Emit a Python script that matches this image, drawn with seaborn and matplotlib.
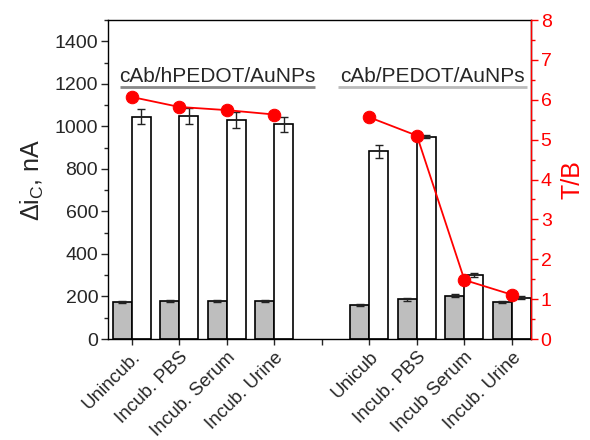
import numpy as np
import pandas as pd
import matplotlib
matplotlib.use("Agg")
import matplotlib.pyplot as plt
from matplotlib.ticker import MultipleLocator
import seaborn as sns

# ---- data ----
positions = [0, 1, 2, 3, 5, 6, 7, 8]
tick_labels = ["Unincub.", "Incub. PBS", "Incub. Serum", "Incub. Urine", "",
               "Unicub", "Incub. PBS", "Incub Serum", "Incub. Urine"]
blank_vals = [173, 180, 179, 180, 160, 187, 204, 176]
blank_err = [5, 5, 5, 5, 4, 6, 6, 5]
target_vals = [1046, 1048, 1028, 1009, 883, 951, 300, 195]
target_err = [36, 38, 38, 34, 30, 6, 10, 5]
tb_left = [6.07, 5.82, 5.74, 5.63]
tb_right = [5.56, 5.10, 1.48, 1.11]
group_names = ["cAb/hPEDOT/AuNPs", "cAb/PEDOT/AuNPs"]

sns.set_style("white")
plt.rcParams['font.family'] = ['Liberation Sans', 'DejaVu Sans']
plt.rcParams['mathtext.fontset'] = 'custom'
plt.rcParams['mathtext.rm'] = 'Liberation Sans'
plt.rcParams['mathtext.it'] = 'Liberation Sans:italic'

df = pd.DataFrame({
    "pos": positions * 2,
    "val": blank_vals + target_vals,
    "err": blank_err + target_err,
    "kind": ["B"] * len(positions) + ["T"] * len(positions),
})

fig = plt.figure(figsize=(5.9, 4.4), dpi=100)
ax = fig.add_axes([0.183, 0.2295, 0.717, 0.725])

sns.barplot(data=df, x="pos", y="val", hue="kind", order=list(range(9)),
            hue_order=["B", "T"], palette={"B": "#BEBEBE", "T": "white"},
            edgecolor="black", linewidth=1.2, width=0.8, errorbar=None,
            legend=False, ax=ax)

# error bars from data
offs = {"B": -0.2, "T": 0.2}
for kind, vals, errs in [("B", blank_vals, blank_err), ("T", target_vals, target_err)]:
    xs = [p + offs[kind] for p in positions]
    ax.errorbar(xs, vals, yerr=errs, fmt="none", ecolor="#222222",
                elinewidth=1.0, capsize=3, capthick=1.0, zorder=5)

ax.set_xlim(-0.5, 8.4)
ax.set_ylim(0, 1500)
ax.yaxis.set_major_locator(MultipleLocator(200))
ax.yaxis.set_minor_locator(MultipleLocator(100))
ax.set_xticks(range(9))
ax.set_xticklabels(tick_labels, rotation=45, ha="right", rotation_mode="anchor",
                   fontsize=13.5)
ax.tick_params(axis="y", which="major", direction="out", length=5, width=1,
               labelsize=14, left=True, pad=2)
ax.tick_params(axis="y", which="minor", direction="out", length=3, width=1, left=True)
ax.tick_params(axis="x", direction="out", length=4, width=1, bottom=True, pad=3)
ax.set_xlabel("")
ax.set_ylabel(r"$\Delta$i$_\mathrm{C}$, nA", fontsize=18, labelpad=6)
for s in ax.spines.values():
    s.set_color("black")
    s.set_linewidth(1.0)

# group labels with underline
ax.text(1.8, 1235, group_names[0], ha="center", va="center", fontsize=15)
ax.plot([-0.25, 3.85], [1183, 1183], color="#888888", lw=2, solid_capstyle="butt")
ax.text(6.33, 1235, group_names[1], ha="center", va="center", fontsize=15)
ax.plot([4.34, 8.32], [1183, 1183], color="#BBBBBB", lw=2, solid_capstyle="butt")

# T/B axis
ax2 = ax.twinx()
sns.lineplot(x=positions[:4], y=tb_left, ax=ax2, color="red", lw=1.3,
             marker="o", markersize=9, markeredgecolor="red")
sns.lineplot(x=positions[4:], y=tb_right, ax=ax2, color="red", lw=1.3,
             marker="o", markersize=9, markeredgecolor="red")
ax2.set_ylim(0, 8)
ax2.set_xlim(-0.5, 8.4)
ax2.yaxis.set_major_locator(MultipleLocator(1))
ax2.yaxis.set_minor_locator(MultipleLocator(0.5))
ax2.tick_params(axis="y", which="major", direction="out", length=5, width=1,
                colors="red", labelsize=14, right=True, pad=2)
ax2.tick_params(axis="y", which="minor", direction="out", length=3, width=1,
                colors="red", right=True)
ax2.set_ylabel("T/B", color="red", fontsize=18, labelpad=6)
ax2.spines["right"].set_color("red")
ax2.spines["right"].set_linewidth(1.0)
ax2.spines["left"].set_visible(False)
ax2.spines["top"].set_visible(False)
ax2.spines["bottom"].set_visible(False)

fig.savefig("out.png", dpi=100)
